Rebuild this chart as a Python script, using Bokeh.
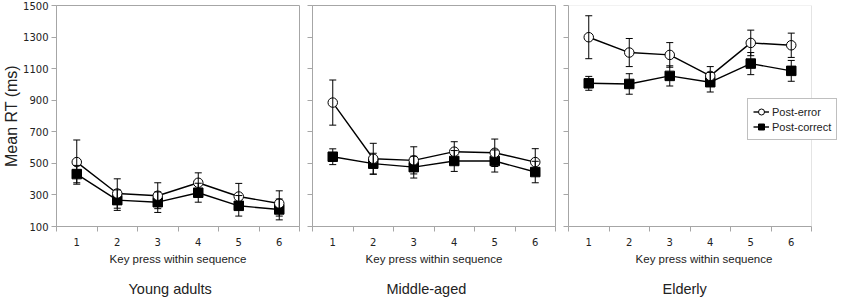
from bokeh.plotting import figure
from bokeh.models import (FixedTicker, Range1d, Whisker, ColumnDataSource, Legend,
                          LegendItem, TeeHead, Title, BoxAnnotation)
from bokeh.layouts import row
from bokeh.embed import file_html
from bokeh.resources import INLINE

# ---- data ----
key_press = [1, 2, 3, 4, 5, 6]
groups = ["Young adults", "Middle-aged", "Elderly"]
series_names = ["Post-error", "Post-correct"]
y_ticks = [100, 300, 500, 700, 900, 1100, 1300, 1500]

young_err = [508, 309, 295, 377, 290, 246]
young_err_se = [140, 93, 82, 63, 83, 80]
young_cor = [432, 267, 254, 314, 231, 208]
young_cor_se = [55, 65, 65, 60, 65, 66]

mid_err = [885, 529, 519, 574, 567, 508]
mid_err_se = [143, 98, 86, 63, 87, 85]
mid_cor = [542, 498, 476, 515, 515, 445]
mid_cor_se = [50, 66, 69, 66, 70, 68]

eld_err = [1299, 1202, 1187, 1054, 1263, 1248]
eld_err_se = [136, 89, 78, 59, 81, 77]
eld_cor = [1007, 1003, 1054, 1014, 1132, 1086]
eld_cor_se = [44, 65, 64, 62, 70, 66]

FONT = "Liberation Sans"
TICKF = "DejaVu Sans"
GRAY = "#a6a6a6"
TXT = "#222222"
FW, FH = 243, 221
EXTRA = 28          # extra frame room on the last panel for the legend
TITLE_OFFSETS = [72, 74, 94]

X0, X1 = key_press[0] - 0.5, key_press[-1] + 0.5
Y0, Y1 = y_ticks[0], y_ticks[-1]


def whisker(p, vals, se):
    src = ColumnDataSource(dict(x=key_press,
                                upper=[v + s for v, s in zip(vals, se)],
                                lower=[v - s for v, s in zip(vals, se)]))
    w = Whisker(base="x", upper="upper", lower="lower", source=src,
                line_color="black", line_width=1, level="glyph",
                upper_head=TeeHead(size=7, line_color="black", line_width=1),
                lower_head=TeeHead(size=7, line_color="black", line_width=1))
    p.add_layout(w)


def make_panel(title, err, err_se, cor, cor_se, idx):
    first = idx == 0
    last = idx == 2
    fw = FW + EXTRA if last else FW
    x_end = X1 + EXTRA * (X1 - X0) / FW if last else X1
    p = figure(frame_width=fw, frame_height=FH,
               x_range=Range1d(X0, x_end), y_range=Range1d(Y0, Y1),
               output_backend="svg", toolbar_location=None,
               min_border_top=5, min_border_bottom=0,
               min_border_left=0 if first else 10,
               min_border_right=0 if last else 3)
    p.xgrid.visible = False
    p.ygrid.visible = False
    p.background_fill_color = "white"
    p.border_fill_color = "white"
    if last:
        p.outline_line_color = None
        p.add_layout(BoxAnnotation(left=X0, right=X1, bottom=Y0, top=Y1,
                                   fill_alpha=0, line_color=GRAY, line_width=1,
                                   level="underlay"))
    else:
        p.outline_line_color = GRAY
        p.outline_line_width = 1

    # x axis
    xa = p.xaxis[0]
    xa.bounds = (X0, X1)
    xa.ticker = FixedTicker(ticks=key_press,
                            minor_ticks=[k - 0.5 for k in key_press] + [X1])
    xa.major_tick_line_color = None
    xa.minor_tick_line_color = GRAY
    xa.minor_tick_in = 0
    xa.minor_tick_out = 5
    xa.axis_line_color = GRAY
    xa.major_label_text_font = TICKF
    xa.major_label_text_font_size = "10px"
    xa.major_label_text_color = TXT
    xa.major_label_standoff = 5
    xa.axis_label = "Key press within sequence"
    xa.axis_label_text_font = FONT
    xa.axis_label_text_font_size = "11.5px"
    xa.axis_label_text_font_style = "normal"
    xa.axis_label_text_color = TXT
    xa.axis_label_standoff = 4

    # y axis
    ya = p.yaxis[0]
    ya.axis_line_color = GRAY
    if first:
        ya.ticker = FixedTicker(ticks=y_ticks)
        ya.minor_tick_line_color = None
        ya.major_tick_in = 0
        ya.major_tick_out = 5
        ya.major_tick_line_color = GRAY
        ya.major_label_text_font = TICKF
        ya.major_label_text_font_size = "10px"
        ya.major_label_text_color = TXT
        ya.major_label_standoff = 3
        ya.axis_label = "Mean RT (ms)"
        ya.axis_label_text_font = FONT
        ya.axis_label_text_font_size = "16px"
        ya.axis_label_text_font_style = "normal"
        ya.axis_label_text_color = TXT
        ya.axis_label_standoff = 0
    else:
        # tick marks only (no labels) on the inner panels
        ya.ticker = FixedTicker(ticks=[], minor_ticks=y_ticks)
        ya.major_tick_line_color = None
        ya.minor_tick_line_color = GRAY
        ya.minor_tick_in = 0
        ya.minor_tick_out = 5
        ya.major_label_standoff = 0

    p.add_layout(Title(text=title, align="left", offset=TITLE_OFFSETS[idx],
                       text_font=FONT, text_font_size="14.5px",
                       text_font_style="normal", text_color=TXT,
                       standoff=23), "below")

    whisker(p, cor, cor_se)
    whisker(p, err, err_se)
    l_err = p.line(key_press, err, line_color="black", line_width=1.4)
    l_cor = p.line(key_press, cor, line_color="black", line_width=1.4)
    s_cor = p.scatter(key_press, cor, marker="square", size=9.5,
                      fill_color="black", line_color="black")
    s_err = p.scatter(key_press, err, marker="circle", size=9.5,
                      fill_color="white", line_color="black", line_width=1)

    if last:
        lg = Legend(items=[LegendItem(label=series_names[0], renderers=[l_err, s_err]),
                           LegendItem(label=series_names[1], renderers=[l_cor, s_cor])],
                    location=(179, 86))
        lg.border_line_color = "#808080"
        lg.border_line_width = 1
        lg.background_fill_color = "white"
        lg.background_fill_alpha = 1
        lg.label_text_font = FONT
        lg.label_text_font_size = "11px"
        lg.label_text_color = TXT
        lg.glyph_width = 16
        lg.glyph_height = 15
        lg.label_height = 15
        lg.label_standoff = 3
        lg.spacing = 0
        lg.padding = 5
        lg.margin = 0
        p.add_layout(lg)
    return p


data = [(young_err, young_err_se, young_cor, young_cor_se),
        (mid_err, mid_err_se, mid_cor, mid_cor_se),
        (eld_err, eld_err_se, eld_cor, eld_cor_se)]
panels = [make_panel(groups[i], *data[i], i) for i in range(3)]
layout = row(*panels, spacing=0)

open("out.html", "w").write(file_html(layout, INLINE))
